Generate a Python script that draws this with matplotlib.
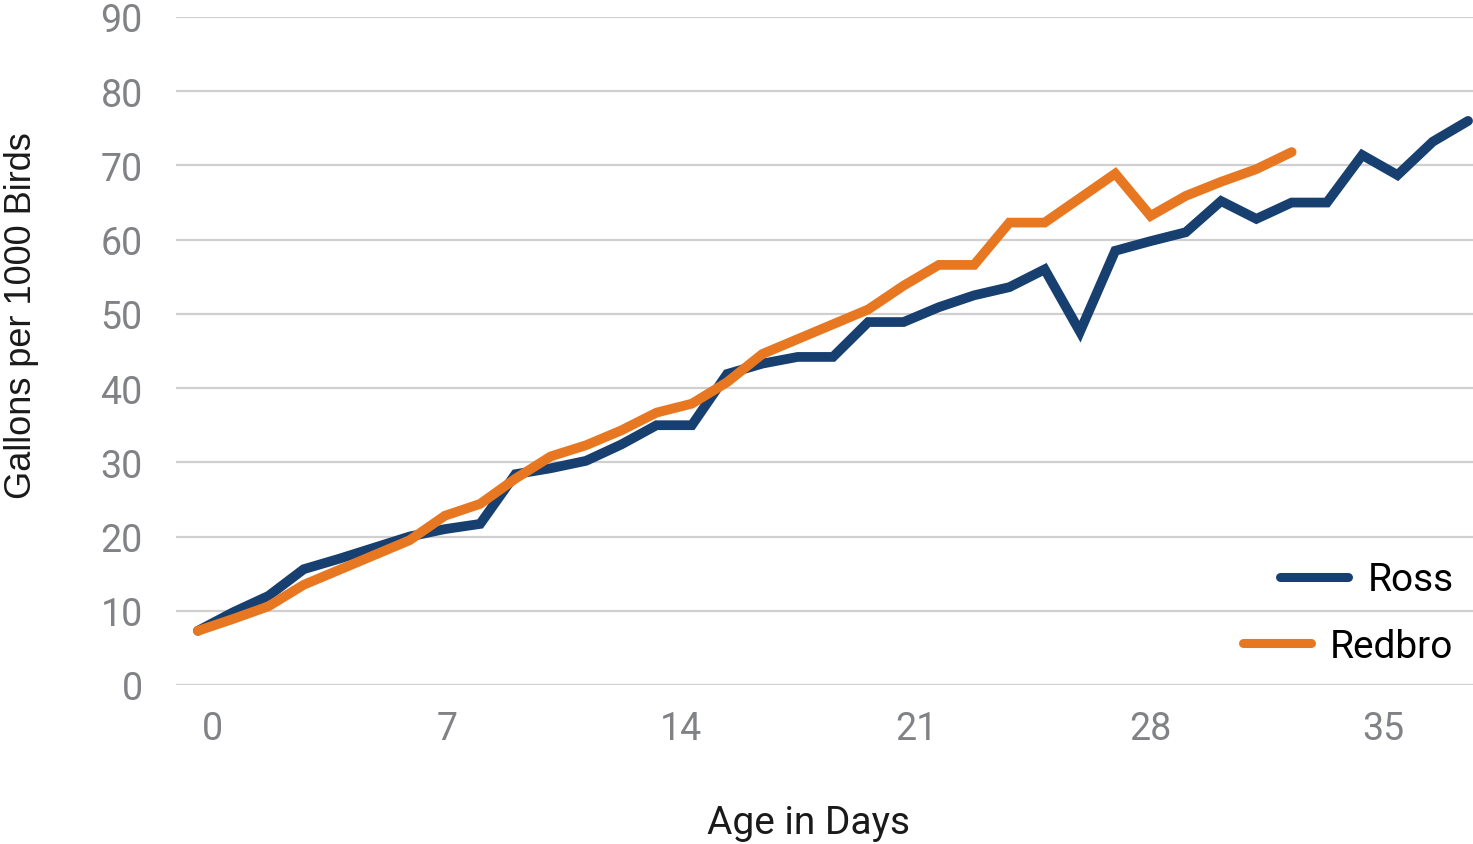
import numpy as np
import matplotlib
matplotlib.use("Agg")
import matplotlib.pyplot as plt

# Water use, gallons per 1000 birds, one reading per measurement step
ross = [7.3, 9.8, 12.0, 15.6, 17.0, 18.5, 20.0, 21.0, 21.7, 28.4, 29.2, 30.2,
        32.4, 35.0, 35.0, 41.9, 43.3, 44.2, 44.2, 48.9, 48.9, 50.9, 52.5, 53.6,
        56.0, 47.6, 58.5, 59.8, 61.0, 65.2, 62.8, 65.0, 65.0, 71.4, 68.7, 73.2,
        76.0]
redbro = [7.3, 8.9, 10.6, 13.5, 15.5, 17.5, 19.5, 22.8, 24.4, 27.8, 30.8, 32.3,
          34.3, 36.7, 37.9, 40.8, 44.6, 46.6, 48.6, 50.6, 53.8, 56.6, 56.6, 62.3,
          62.3, 65.6, 68.9, 63.2, 65.9, 67.8, 69.5, 71.8]

day_labels = ["0", "7", "14", "21", "28", "35"]
day_ticks = [0.4, 7.05, 13.7, 20.35, 27.0, 33.6]
y_ticks = list(range(0, 91, 10))

navy = "#173f70"
orange = "#e87722"
gray_text = "#808285"

fig = plt.figure(figsize=(14.73, 8.45), dpi=100)
ax = fig.add_axes([0.1195, 0.1882, 0.8805, 0.7905])

lw = 7
ax.plot(np.arange(len(ross)), ross, color=navy, lw=lw, label="Ross",
        solid_capstyle="round", solid_joinstyle="miter", clip_on=False, zorder=3)
ax.plot(np.arange(len(redbro)), redbro, color=orange, lw=lw, label="Redbro",
        solid_capstyle="round", solid_joinstyle="miter", clip_on=False, zorder=4)

ax.set_xlim(-0.62, 36.14)
ax.set_ylim(0, 90)
ax.set_yticks(y_ticks)
ax.set_xticks(day_ticks)
ax.set_xticklabels(day_labels)

num_font = ["Roboto", "DejaVu Sans"]
for lab in ax.get_xticklabels() + ax.get_yticklabels():
    lab.set_family(num_font)
    lab.set_fontsize(27)
    lab.set_color(gray_text)

ax.tick_params(axis="both", length=0)
ax.tick_params(axis="y", pad=24)
ax.tick_params(axis="x", pad=18)
ax.grid(axis="y", color="#d0d0d0", lw=1.6)
ax.set_axisbelow(True)
for s in ax.spines.values():
    s.set_visible(False)

ax.set_ylabel("Gallons per 1000 Birds", family=["Liberation Sans", "DejaVu Sans"],
              fontsize=26, color="#1a1a1a")
ax.yaxis.set_label_coords(-0.106, 0.555)
ax.set_xlabel("Age in Days", family=num_font, fontsize=28, color="#1a1a1a")
ax.xaxis.set_label_coords(0.4875, -0.178)

leg = ax.legend(loc="lower right", bbox_to_anchor=(1.012, -0.022), frameon=False,
                handlelength=1.75, handletextpad=0.5,
                labelspacing=0.75, prop={"family": num_font, "size": 28})
# right-align the legend rows so each entry ends at the same edge
for col in leg._legend_handle_box.get_children():
    col.align = "right"
for h in leg.legend_handles:
    h.set_solid_capstyle("round")
    h.set_linewidth(6.5)

fig.savefig("out.png", dpi=100)
